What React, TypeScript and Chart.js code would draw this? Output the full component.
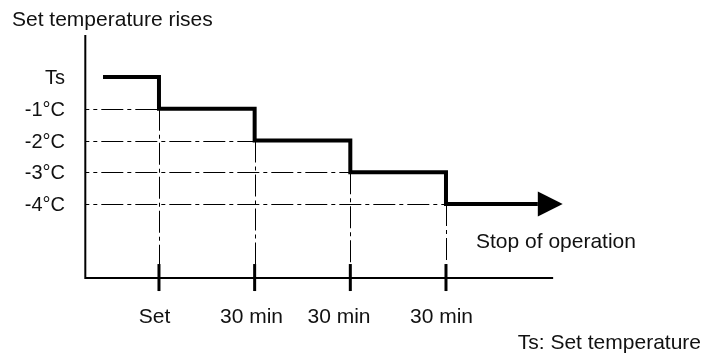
import React, { useEffect, useRef } from "react";
import { Chart, registerables } from "chart.js";

Chart.register(...registerables);

// ---- data ----
const yLevels = [0, -1, -2, -3, -4];
const yLabels = ["Ts", "-1°C", "-2°C", "-3°C", "-4°C"];
const stepX = [0.415, 1, 2, 3, 4, 4.96];
const stepY = [0, -1, -2, -3, -4, -4];
const xTicks = [1, 2, 3, 4];
const xLabels = ["Set", "30 min", "30 min", "30 min"];
const xLabelAt = [0.953, 1.967, 2.882, 3.953];
const yAxisAt = 0.23;
const yAxisTop = 1.323;
const xAxisAt = -6.3;
const xAxisEnd = 5.12;
const arrowTip = 5.22;
const titleText = "Set temperature rises";
const stopText = "Stop of operation";
const noteText = "Ts: Set temperature";

const FONT = '"Liberation Sans", Arial, sans-serif';

const diagramPlugin = {
  id: "diagram",
  beforeDatasetsDraw(chart: any) {
    const { ctx, scales } = chart;
    const x = scales.x;
    const y = scales.y;
    const px = (v: number) => x.getPixelForValue(v);
    const py = (v: number) => y.getPixelForValue(v);
    ctx.save();
    // dash-dot guide lines
    ctx.strokeStyle = "#000";
    ctx.lineWidth = 1;
    ctx.setLineDash([22, 4, 4, 4]);
    for (let i = 1; i < yLevels.length; i++) {
      const cx = stepX[i];
      const lv = stepY[i];
      ctx.beginPath();
      ctx.lineDashOffset = 18;
      ctx.moveTo(px(yAxisAt), Math.round(py(lv)) + 0.5);
      ctx.lineTo(px(cx), Math.round(py(lv)) + 0.5);
      ctx.stroke();
      ctx.beginPath();
      ctx.lineDashOffset = 0;
      ctx.moveTo(Math.round(px(cx)) + 0.5, py(lv));
      ctx.lineTo(Math.round(px(cx)) + 0.5, py(xAxisAt));
      ctx.stroke();
    }
    ctx.setLineDash([]);
    // axes
    ctx.lineWidth = 2;
    ctx.beginPath();
    ctx.moveTo(px(yAxisAt), py(yAxisTop));
    ctx.lineTo(px(yAxisAt), py(xAxisAt) + 1);
    ctx.lineTo(px(xAxisEnd), py(xAxisAt) + 1);
    ctx.stroke();
    // ticks
    ctx.lineWidth = 3;
    for (const t of xTicks) {
      ctx.beginPath();
      ctx.moveTo(px(t), py(xAxisAt) - 13);
      ctx.lineTo(px(t), py(xAxisAt) + 14);
      ctx.stroke();
    }
    ctx.restore();
  },
  afterDatasetsDraw(chart: any) {
    const { ctx, scales } = chart;
    const x = scales.x;
    const y = scales.y;
    const px = (v: number) => x.getPixelForValue(v);
    const py = (v: number) => y.getPixelForValue(v);
    ctx.save();
    // arrow head
    const endX = px(stepX[stepX.length - 1]);
    const endY = py(stepY[stepY.length - 1]);
    ctx.fillStyle = "#000";
    ctx.beginPath();
    ctx.moveTo(endX, endY - 12.5);
    ctx.lineTo(px(arrowTip), endY);
    ctx.lineTo(endX, endY + 12.5);
    ctx.closePath();
    ctx.fill();
    // texts
    ctx.fillStyle = "#111";
    ctx.textBaseline = "alphabetic";
    ctx.font = `21px ${FONT}`;
    ctx.textAlign = "left";
    ctx.fillText(titleText, 12, 26);
    ctx.fillText(stopText, 476, 248);
    ctx.textAlign = "right";
    ctx.fillText(noteText, 701, 349);
    ctx.textAlign = "center";
    for (let i = 0; i < xLabels.length; i++) {
      ctx.fillText(xLabels[i], px(xLabelAt[i]), 323);
    }
    ctx.font = `20px ${FONT}`;
    ctx.textAlign = "right";
    for (let i = 0; i < yLabels.length; i++) {
      ctx.fillText(yLabels[i], 65, py(yLevels[i]) + 7);
    }
    ctx.restore();
  },
};

export default function App() {
  const ref = useRef<HTMLCanvasElement | null>(null);
  useEffect(() => {
    if (!ref.current) return;
    const chart = new Chart(ref.current, {
      type: "line",
      data: {
        datasets: [
          {
            data: stepX.map((v, i) => ({ x: v, y: stepY[i] })),
            stepped: true,
            borderColor: "#000",
            borderWidth: 4,
            borderJoinStyle: "miter",
            borderCapStyle: "butt",
            pointRadius: 0,
            fill: false,
          },
        ],
      },
      options: {
        animation: false,
        responsive: false,
        layout: { padding: 0 },
        plugins: { legend: { display: false }, tooltip: { enabled: false } },
        scales: {
          x: { type: "linear", display: false, min: -0.6617, max: 6.676 },
          y: { type: "linear", display: false, min: -8.787, max: 2.425 },
        },
      },
      plugins: [diagramPlugin],
    } as any);
    return () => chart.destroy();
  }, []);
  return (
    <canvas
      ref={ref}
      width={702}
      height={356}
      style={{ position: "fixed", left: 0, top: 0, display: "block", background: "#fff" }}
    />
  );
}
